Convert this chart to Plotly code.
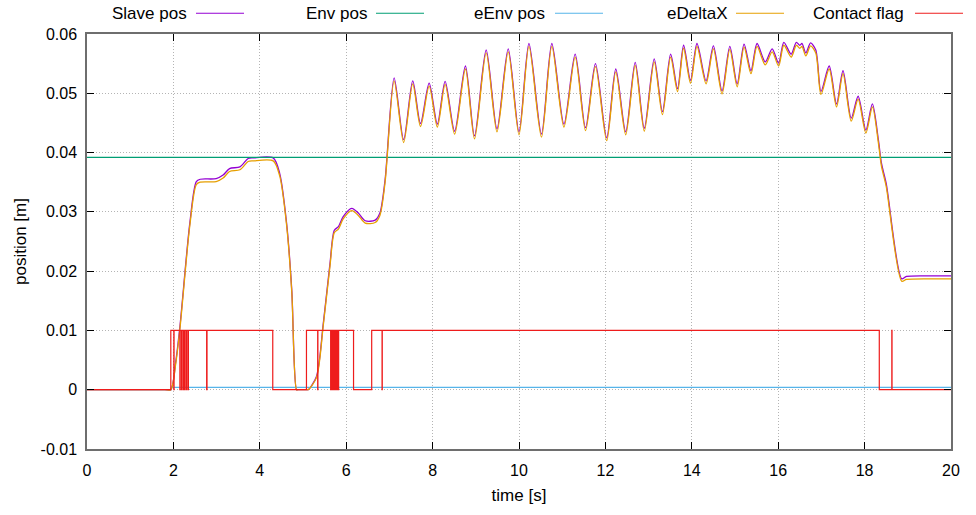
import plotly.graph_objects as go

# ---- series data -------------------------------------------------------
time_s = [0.0, 1.8, 1.94, 2.05, 2.15, 2.38, 2.53, 2.62, 2.99, 3.15, 3.30, 3.54,
          3.73, 3.85, 4.31, 4.46, 4.62, 4.74, 4.85, 4.88, 5.10, 5.12, 5.31, 5.47,
          5.625, 5.725, 5.82, 5.93, 6.13, 6.28, 6.44, 6.67, 6.78, 6.90,
          7.11, 7.33, 7.54, 7.72, 7.92, 8.11, 8.29, 8.51, 8.76, 8.97, 9.24, 9.49,
          9.75, 10.00, 10.23, 10.52, 10.76, 11.04, 11.30, 11.54, 11.77, 12.03,
          12.24, 12.47, 12.69, 12.90, 13.13, 13.32, 13.51, 13.67, 13.81, 13.97,
          14.12, 14.33, 14.50, 14.70, 14.88, 15.05, 15.21, 15.37, 15.51, 15.70,
          15.86, 16.01, 16.13, 16.30, 16.42, 16.50, 16.55, 16.64, 16.75, 16.87,
          16.99, 17.18, 17.35, 17.50, 17.69, 17.85, 18.03, 18.18, 18.32, 18.39,
          18.50, 18.86, 18.97, 19.50, 20.0]

slave_pos = [0.0, 0.0, 0.0, 0.0045, 0.0106, 0.0281, 0.0351, 0.0355, 0.0356, 0.0362,
             0.0373, 0.0376, 0.0390, 0.0391, 0.0391, 0.0365, 0.0281, 0.0168, 0.0,
             0.0, 0.0, 0.0, 0.0022, 0.0112, 0.0213, 0.0269, 0.0275, 0.0292, 0.0306,
             0.0298, 0.0285, 0.0286, 0.0298, 0.0354,
             0.0526, 0.0422, 0.0521, 0.0449, 0.0517, 0.0448, 0.0520, 0.0436, 0.0546,
             0.0428, 0.0573, 0.0440, 0.0575, 0.0435, 0.0584, 0.0431, 0.0584, 0.0448,
             0.0566, 0.0442, 0.0550, 0.0425, 0.0541, 0.0435, 0.0552, 0.0441, 0.0558,
             0.0469, 0.0566, 0.0508, 0.0581, 0.0522, 0.0584, 0.0521, 0.0580, 0.0504,
             0.0579, 0.0516, 0.0583, 0.0538, 0.0584, 0.0553, 0.0575, 0.0551, 0.0586,
             0.0566, 0.0586, 0.0581, 0.0584, 0.0568, 0.0585, 0.0573, 0.0503, 0.0546,
             0.0482, 0.0538, 0.0458, 0.0495, 0.0438, 0.0482, 0.0421, 0.0382, 0.0348,
             0.0187, 0.0191, 0.0192, 0.0192]

e_delta_x = [0.0, 0.0, 0.0, 0.0042, 0.0102, 0.0277, 0.0346, 0.0350, 0.0351, 0.0357,
             0.0368, 0.0371, 0.0385, 0.0386, 0.0386, 0.0361, 0.0278, 0.0165, 0.0,
             0.0, 0.0, 0.0, 0.0020, 0.0109, 0.0209, 0.0265, 0.0271, 0.0288, 0.0302,
             0.0294, 0.0281, 0.0282, 0.0294, 0.0350,
             0.0521, 0.0417, 0.0516, 0.0444, 0.0512, 0.0443, 0.0515, 0.0431, 0.0541,
             0.0423, 0.0568, 0.0435, 0.0570, 0.0430, 0.0579, 0.0426, 0.0579, 0.0443,
             0.0561, 0.0437, 0.0545, 0.0420, 0.0536, 0.0430, 0.0547, 0.0436, 0.0553,
             0.0464, 0.0561, 0.0503, 0.0576, 0.0517, 0.0579, 0.0516, 0.0575, 0.0499,
             0.0574, 0.0511, 0.0578, 0.0533, 0.0579, 0.0548, 0.0570, 0.0546, 0.0581,
             0.0561, 0.0581, 0.0576, 0.0579, 0.0563, 0.0580, 0.0568, 0.0498, 0.0541,
             0.0477, 0.0533, 0.0453, 0.0490, 0.0433, 0.0477, 0.0416, 0.0377, 0.0343,
             0.0183, 0.0186, 0.0187, 0.0187]

env_t = [0.0, 20.0]
env_pos = [0.0392, 0.0392]

e_env_t = [0.0, 1.95, 1.95, 20.0]
e_env_pos = [0.0, 0.0, 0.0004, 0.0004]

flag_t = [0.0, 1.94, 2.01, 2.015, 2.15, 2.158, 2.19, 2.198, 2.23, 2.238, 2.26, 2.268,
          2.30, 2.308, 2.34, 2.348, 2.77, 2.778, 4.30, 5.08, 5.34, 5.345,
          5.64, 5.655, 5.67, 5.685, 5.70, 5.715, 5.73, 5.745, 5.76, 5.775, 5.79,
          5.805, 5.82, 5.825, 6.17, 6.59, 6.83, 6.835, 18.34, 18.63, 18.635, 20.0]
contact_flag = [0, 0.01, 0, 0.01, 0, 0.01, 0, 0.01, 0, 0.01, 0, 0.01,
                0, 0.01, 0, 0.01, 0, 0.01, 0, 0.01, 0, 0.01,
                0, 0.01, 0, 0.01, 0, 0.01, 0, 0.01, 0, 0.01, 0,
                0.01, 0, 0.01, 0, 0.01, 0, 0.01, 0, 0.01, 0, 0]

x_ticks = [0, 2, 4, 6, 8, 10, 12, 14, 16, 18, 20]
y_ticks = [-0.01, 0, 0.01, 0.02, 0.03, 0.04, 0.05, 0.06]
y_tick_text = ["-0.01", "0", "0.01", "0.02", "0.03", "0.04", "0.05", "0.06"]

series_names = ["Slave pos", "Env pos", "eEnv pos", "eDeltaX", "Contact flag"]
series_colors = ["#9400D3", "#009E73", "#56B4E9", "#E69F00", "#EE1C1C"]

# ---- figure ------------------------------------------------------------
fig = go.Figure()
fig.add_trace(go.Scatter(x=time_s, y=slave_pos, mode="lines", name=series_names[0],
                         line=dict(color=series_colors[0], width=1.3,
                                   shape="spline", smoothing=0.8)))
fig.add_trace(go.Scatter(x=env_t, y=env_pos, mode="lines", name=series_names[1],
                         line=dict(color=series_colors[1], width=1.3)))
fig.add_trace(go.Scatter(x=e_env_t, y=e_env_pos, mode="lines", name=series_names[2],
                         line=dict(color=series_colors[2], width=1.3)))
fig.add_trace(go.Scatter(x=time_s, y=e_delta_x, mode="lines", name=series_names[3],
                         line=dict(color=series_colors[3], width=1.3,
                                   shape="spline", smoothing=0.8)))
fig.add_trace(go.Scatter(x=flag_t, y=contact_flag, mode="lines", name=series_names[4],
                         line=dict(color=series_colors[4], width=1.2, shape="hv")))

# Key along the top: label followed by a short line sample
key_text_right = [189, 369, 547, 729, 906]
key_line_start = [196, 376, 555, 736, 915]
plot_left, plot_width = 87, 864
key_y = 1.05
for name, color, xr, xl in zip(series_names, series_colors, key_text_right, key_line_start):
    fig.add_annotation(x=(xr - plot_left) / plot_width, y=key_y, xref="paper", yref="paper",
                       text=name, showarrow=False, xanchor="right", yanchor="middle",
                       font=dict(size=17, color="#000000"))
    fig.add_shape(type="line", xref="paper", yref="paper",
                  x0=(xl - plot_left) / plot_width, x1=(xl + 48 - plot_left) / plot_width,
                  y0=key_y, y1=key_y, line=dict(color=color, width=1.2))

axis_common = dict(showline=True, linecolor="#6e6e6e", linewidth=1.5, mirror="ticks",
                   ticks="inside", ticklen=7, tickcolor="#000000", tickwidth=1,
                   showgrid=True, gridcolor="#b4b4b4", griddash="1px,2px", gridwidth=1,
                   zeroline=False, tickfont=dict(size=16, color="#000000"))

fig.update_xaxes(range=[0, 20], tickvals=x_ticks, ticklabelstandoff=6,
                 title=dict(text="time [s]", font=dict(size=17, color="#000000"), standoff=11),
                 **axis_common)
fig.update_yaxes(range=[-0.01, 0.06], tickvals=y_ticks, ticktext=y_tick_text,
                 ticklabelstandoff=5,
                 title=dict(text="position [m]", font=dict(size=17, color="#000000"), standoff=10),
                 **axis_common)

fig.update_layout(width=976, height=515, showlegend=False,
                  margin=dict(l=87, r=25, t=34, b=66),
                  plot_bgcolor="#ffffff", paper_bgcolor="#ffffff",
                  font=dict(family="Liberation Sans, Arial, sans-serif", color="#000000"))

fig.write_html("out.html")
